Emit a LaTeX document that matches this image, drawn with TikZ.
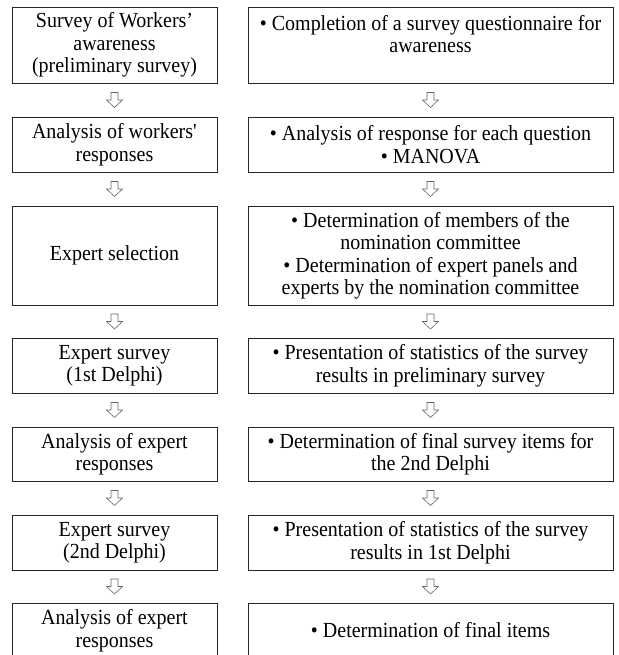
\documentclass[tikz,border=0pt]{standalone}
\usepackage{fontspec}
\setmainfont{Liberation Serif}[FakeStretch=0.93]
\usetikzlibrary{calc}
\begin{document}
\begin{tikzpicture}[x=1pt,y=-1pt,
  box/.style={draw=black!85, line width=0.8pt, inner sep=2pt, align=center,
    font=\fontsize{21.5}{22.5}\selectfont},
  lbox/.style={box, minimum width=205pt},
  rbox/.style={box, minimum width=365pt},
  darr/.pic={\draw[black!60, line width=0.6pt, fill=white]
    (-3.5,-7.5) -- (3.5,-7.5) -- (3.5,0) -- (8,0) -- (0,7.5) -- (-8,0) -- (-3.5,0) -- cycle;}
]
\clip (0,0) rectangle (618,655);
\fill[white] (0,0) rectangle (618,655);

\node[lbox, minimum height=76pt] (l1) at (114.5,45) {Survey of Workers’\\awareness\\(preliminary survey)};
\node[rbox, minimum height=76pt] (r1) at (430.5,45) {• Completion of a survey questionnaire for\\awareness\\\mbox{}};

\node[lbox, minimum height=55pt] (l2) at (114.5,144.5) {Analysis of workers\textquotesingle\\responses};
\node[rbox, minimum height=55pt] (r2) at (430.5,144.5) {• Analysis of response for each question\\• MANOVA};

\node[lbox, minimum height=99pt] (l3) at (114.5,255.5) {Expert selection};
\node[rbox, minimum height=99pt] (r3) at (430.5,255.5) {• Determination of members of the\\nomination committee\\• Determination of expert panels and\\experts by the nomination committee};

\node[lbox, minimum height=55pt] (l4) at (114.5,365.5) {Expert survey\\(1st Delphi)};
\node[rbox, minimum height=55pt] (r4) at (430.5,365.5) {• Presentation of statistics of the survey\\results in preliminary survey};

\node[lbox, minimum height=54pt] (l5) at (114.5,454) {Analysis of expert\\responses};
\node[rbox, minimum height=54pt] (r5) at (430.5,454) {• Determination of final survey items for\\the 2nd Delphi};

\node[lbox, minimum height=55pt] (l6) at (114.5,542.5) {Expert survey\\(2nd Delphi)};
\node[rbox, minimum height=55pt] (r6) at (430.5,542.5) {• Presentation of statistics of the survey\\results in 1st Delphi};

\node[lbox, minimum height=55pt] (l7) at (114.5,630.5) {Analysis of expert\\responses};
\node[rbox, minimum height=55pt] (r7) at (430.5,630.5) {• Determination of final items};

\foreach \a/\b in {l1/l2,l2/l3,l3/l4,l4/l5,l5/l6,l6/l7,r1/r2,r2/r3,r3/r4,r4/r5,r5/r6,r6/r7}
  \pic at ($(\a.south)!0.5!(\b.north)$) {darr};
\end{tikzpicture}
\end{document}
